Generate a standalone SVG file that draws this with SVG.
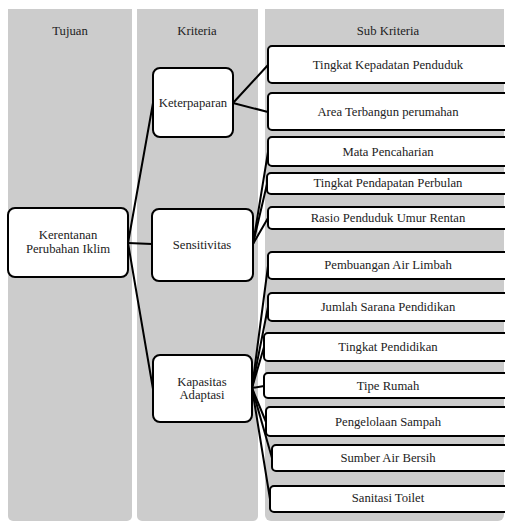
<svg xmlns="http://www.w3.org/2000/svg" width="505" height="522" viewBox="0 0 505 522">
<style>
.band{fill:#cccccc}
.node rect{fill:#ffffff;stroke:#000000;stroke-width:2}
text{font-family:'Liberation Serif','DejaVu Serif',serif;font-size:12.7px;fill:#222222;text-anchor:middle}
.conn line{stroke:#000000;stroke-width:2;stroke-linecap:round}
</style>
<rect width="505" height="522" fill="#ffffff"/>
<g id="bands">
<path class="band" d="M8 9H132V516a5 5 0 0 1-5 5H13a5 5 0 0 1-5-5Z"/>
<path class="band" d="M137 9H258V516a5 5 0 0 1-5 5H142a5 5 0 0 1-5-5Z"/>
<path class="band" d="M265 9H504V515a6 6 0 0 1-6 6H271a6 6 0 0 1-6-6Z"/>
<text x="70" y="35">Tujuan</text>
<text x="197" y="35">Kriteria</text>
<text x="388" y="35">Sub Kriteria</text>
</g>
<g id="connectors" class="conn">
<line x1="128" y1="243" x2="153" y2="103"/>
<line x1="128" y1="243" x2="152" y2="244"/>
<line x1="128" y1="243" x2="153" y2="389"/>
<line x1="233" y1="103" x2="268" y2="65"/>
<line x1="233" y1="103" x2="268" y2="112"/>
<line x1="253" y1="244" x2="268" y2="152"/>
<line x1="253" y1="244" x2="267" y2="184"/>
<line x1="253" y1="244" x2="268" y2="218"/>
<line x1="252" y1="388" x2="268" y2="266"/>
<line x1="252" y1="388" x2="268" y2="307"/>
<line x1="252" y1="388" x2="264" y2="347"/>
<line x1="252" y1="388" x2="264" y2="386"/>
<line x1="252" y1="388" x2="266" y2="422"/>
<line x1="252" y1="388" x2="272" y2="458"/>
<line x1="252" y1="388" x2="270" y2="499"/>
</g>
<g id="n-kerentanan" class="node">
<rect x="8" y="208" width="120" height="69" rx="7"/>
<text x="68" y="239">Kerentanan</text>
<text x="68" y="253">Perubahan Iklim</text>
</g>
<g id="n-keterpaparan" class="node">
<rect x="153" y="68" width="80" height="69" rx="7"/>
<text x="193" y="107">Keterpaparan</text>
</g>
<g id="n-sensitivitas" class="node">
<rect x="152" y="209" width="101" height="72" rx="7"/>
<text x="202" y="249">Sensitivitas</text>
</g>
<g id="n-kapasitas" class="node">
<rect x="153" y="355" width="99" height="67" rx="7"/>
<text x="202" y="386">Kapasitas</text>
<text x="202" y="399">Adaptasi</text>
</g>
<g id="s-kepadatan" class="node">
<rect x="268" y="46" width="260" height="37" rx="4"/>
<text x="388" y="69">Tingkat Kepadatan Penduduk</text>
</g>
<g id="s-area" class="node">
<rect x="268" y="93" width="260" height="37" rx="4"/>
<text x="388" y="116">Area Terbangun perumahan</text>
</g>
<g id="s-mata" class="node">
<rect x="268" y="137" width="260" height="29" rx="4"/>
<text x="388" y="156">Mata Pencaharian</text>
</g>
<g id="s-pendapatan" class="node">
<rect x="267" y="173" width="260" height="21" rx="4"/>
<text x="388" y="187">Tingkat Pendapatan Perbulan</text>
</g>
<g id="s-rasio" class="node">
<rect x="268" y="207" width="260" height="22" rx="4"/>
<text x="388" y="222">Rasio Penduduk Umur Rentan</text>
</g>
<g id="s-limbah" class="node">
<rect x="268" y="252" width="260" height="27" rx="4"/>
<text x="388" y="269">Pembuangan Air Limbah</text>
</g>
<g id="s-sarana" class="node">
<rect x="268" y="293" width="260" height="28" rx="4"/>
<text x="388" y="311">Jumlah Sarana Pendidikan</text>
</g>
<g id="s-pendidikan" class="node">
<rect x="264" y="333" width="260" height="28" rx="4"/>
<text x="388" y="351">Tingkat Pendidikan</text>
</g>
<g id="s-rumah" class="node">
<rect x="264" y="373" width="260" height="25" rx="4"/>
<text x="388" y="390">Tipe Rumah</text>
</g>
<g id="s-sampah" class="node">
<rect x="266" y="407" width="260" height="29" rx="4"/>
<text x="388" y="426">Pengelolaan Sampah</text>
</g>
<g id="s-air" class="node">
<rect x="272" y="445" width="260" height="26" rx="4"/>
<text x="388" y="462">Sumber Air Bersih</text>
</g>
<g id="s-sanitasi" class="node">
<rect x="270" y="486" width="260" height="26" rx="4"/>
<text x="388" y="502">Sanitasi Toilet</text>
</g>
</svg>
